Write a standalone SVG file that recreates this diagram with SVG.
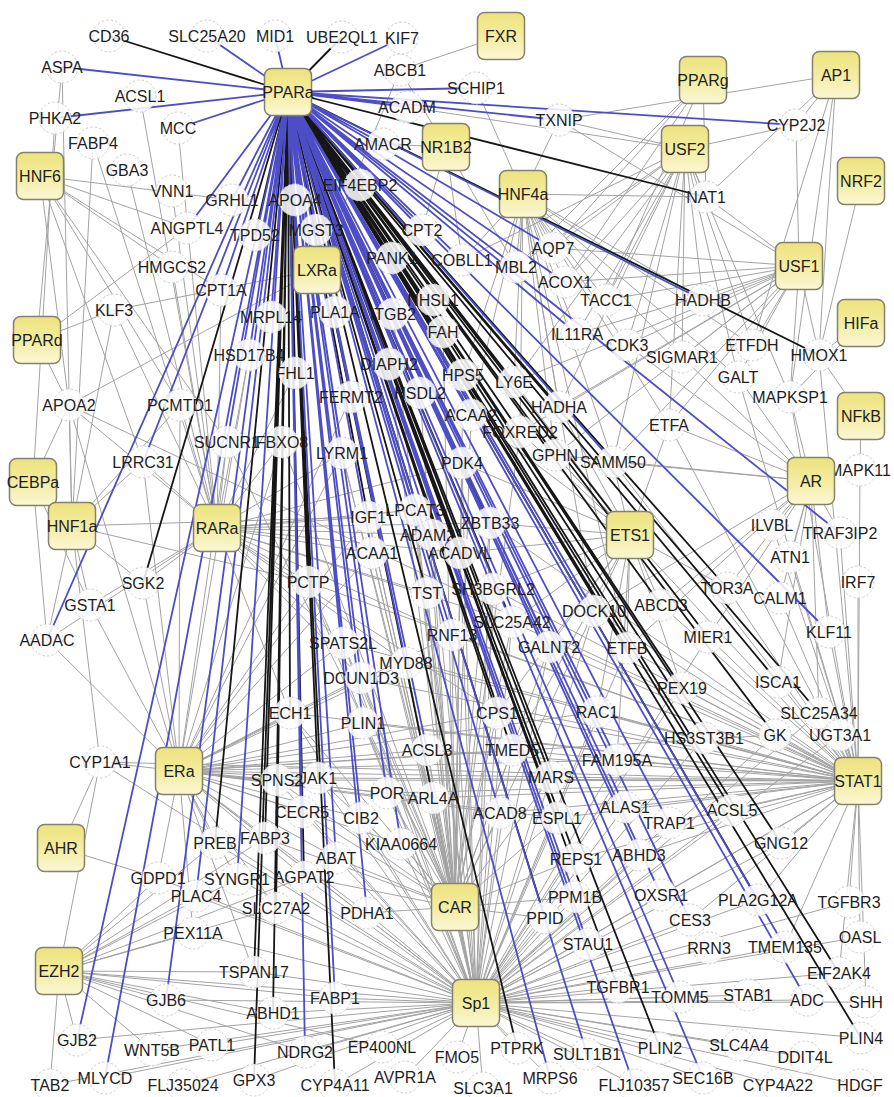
<svg xmlns="http://www.w3.org/2000/svg" width="894" height="1097" viewBox="0 0 894 1097">
<defs>
<linearGradient id="tfFill" x1="0" y1="0" x2="0" y2="1">
<stop offset="0" stop-color="#ede27c"/>
<stop offset="0.55" stop-color="#f4eda6"/>
<stop offset="1" stop-color="#fbf7d6"/>
</linearGradient>
<style>
.g{stroke:#a3a3a3;stroke-width:1;fill:none}
.b{stroke:#4d4dc6;stroke-width:1.8;fill:none}
.k{stroke:#161616;stroke-width:1.8;fill:none}
.n circle{fill:#fff;fill-opacity:0.86;stroke:#cdcdcd;stroke-width:1;stroke-dasharray:2.5 2}
.tf rect{fill:url(#tfFill);stroke:#85826a;stroke-width:1.5}
text{font-family:"Liberation Sans",Arial,Helvetica,sans-serif;font-size:16px;text-anchor:middle;fill:#1e1e1e}
</style>
</defs>
<rect width="894" height="1097" fill="#fff"/>
<g id="connectors">
<path id="e-Sp1" class="g" d="M476 1003L335 998M476 1003L305 1052M476 1003L382 1047M476 1003L405 1077M476 1003L457 1057M476 1003L483 1088M476 1003L517 1048M476 1003L550 1078M476 1003L587 1054M476 1003L634 1085M476 1003L660 1048M476 1003L703 1078M476 1003L739 1045M476 1003L778 1085M476 1003L805 1057M476 1003L860 1085M476 1003L861 1038M476 1003L866 1002M476 1003L807 1000M476 1003L748 995M476 1003L680 997M476 1003L618 987M476 1003L839 973M476 1003L335 1085M476 1003L254 1080M476 1003L183 1085M476 1003L105 1078M476 1003L50 1085M476 1003L152 1050M476 1003L212 1045M476 1003L77 1040M476 1003L273 1013M476 1003L254 972M476 1003L166 1000M476 1003L193 933M476 1003L196 896M476 1003L276 908M476 1003L158 878M476 1003L237 879M476 1003L304 877M476 1003L367 913M476 1003L336 858M476 1003L265 838M476 1003L215 843M476 1003L401 844M476 1003L361 818M476 1003L302 812M476 1003L387 793M476 1003L433 798M476 1003L427 750M476 1003L363 723M476 1003L318 778M476 1003L277 780M476 1003L290 713M476 1003L361 678M476 1003L406 663M476 1003L343 643M476 1003L308 582M476 1003L427 593M476 1003L452 635M476 1003L497 713M476 1003L512 750M476 1003L551 777M476 1003L500 813M476 1003L557 818M476 1003L576 859M476 1003L575 897M476 1003L545 918M476 1003L588 944M476 1003L690 920M476 1003L661 895M476 1003L709 948M476 1003L785 947M476 1003L849 902M476 1003L860 937M476 1003L758 900M476 1003L639 855M476 1003L669 823M476 1003L625 807M476 1003L617 760M476 1003L597 712M476 1003L732 810M476 1003L781 843M476 1003L704 738M476 1003L775 735M476 1003L179 771M476 1003L59 971M476 1003L858 781M476 1003L368 517M476 1003L372 553M476 1003L415 510M476 1003L432 535M476 1003L512 622M476 1003L549 647M476 1003L493 589M476 1003L460 553M476 1003L490 523M476 1003L627 648M476 1003L594 611M476 1003L682 688M476 1003L342 453M476 1003L462 463M476 1003L840 735M476 1003L819 713M476 1003L708 637M476 1003L100 762"/>
<path id="e-CAR" class="g" d="M455 907L372 553M455 907L368 517M455 907L415 510M455 907L432 535M455 907L490 523M455 907L460 553M455 907L427 593M455 907L493 589M455 907L308 582M455 907L343 643M455 907L452 635M455 907L512 622M455 907L406 663M455 907L361 678M455 907L363 723M455 907L290 713M455 907L497 713M455 907L512 750M455 907L427 750M455 907L318 778M455 907L387 793M455 907L433 798M455 907L361 818M455 907L401 844M455 907L500 813M455 907L551 777M455 907L557 818M455 907L462 463M455 907L471 415M455 907L420 393M455 907L351 397M455 907L342 453M455 907L389 364M455 907L549 647M455 907L594 611M455 907L302 812M455 907L277 780M455 907L336 858M455 907L367 913M455 907L304 877M455 907L265 838M455 907L463 375M455 907L520 432M455 907L393 314M455 907L443 332M455 907L335 312M455 907L227 442M455 907L282 442M455 907L576 859M455 907L545 918M455 907L575 897"/>
<path id="e-STAT1" class="g" d="M858 781L775 735M858 781L840 735M858 781L819 713M858 781L778 682M858 781L704 738M858 781L682 688M858 781L708 637M858 781L661 605M858 781L727 588M858 781L780 598M858 781L829 632M858 781L858 582M858 781L790 557M858 781L772 525M858 781L627 648M858 781L594 611M858 781L597 712M858 781L617 760M858 781L625 807M858 781L551 777M858 781L512 750M858 781L497 713M858 781L732 810M858 781L781 843M858 781L669 823M858 781L639 855M858 781L557 818M858 781L500 813M858 781L758 900M858 781L849 902M858 781L860 937M858 781L839 973M858 781L785 947M858 781L549 647M858 781L512 622M858 781L290 713M858 781L277 780M858 781L318 778M858 781L363 723M858 781L427 750M858 781L433 798M858 781L387 793M858 781L576 859M858 781L840 533M858 781L860 470M858 781L819 355M858 781L790 397M858 781L738 377M858 781L669 425M858 781L613 462M858 781L555 455M858 781L490 523M858 781L493 589M858 781L452 635M858 781L406 663M858 781L361 678M858 781L343 643M858 781L308 582M858 781L69 405M858 781L100 762M858 781L661 895M858 781L690 920M858 781L866 1002"/>
<path id="e-ERa" class="g" d="M179 771L100 762M179 771L47 640M179 771L90 605M179 771L290 713M179 771L277 780M179 771L318 778M179 771L302 812M179 771L363 723M179 771L427 750M179 771L361 678M179 771L343 643M179 771L308 582M179 771L551 777M179 771L497 713M179 771L512 750M179 771L387 793M179 771L361 818M179 771L433 798M179 771L401 844M179 771L265 838M179 771L215 843M179 771L237 879M179 771L304 877M179 771L158 878M179 771L193 933M179 771L254 972M179 771L276 908M179 771L336 858M179 771L367 913M179 771L368 517M179 771L372 553M179 771L452 635M179 771L406 663M179 771L557 818M179 771L500 813M179 771L617 760M179 771L597 712M179 771L775 735M179 771L143 462M179 771L180 405M179 771L143 583M179 771L282 442M179 771L227 442M179 771L342 453M179 771L351 397M179 771L249 355M179 771L69 405"/>
<path id="e-EZH2" class="g" d="M59 971L193 933M59 971L254 972M59 971L166 1000M59 971L273 1013M59 971L158 878M59 971L215 843M59 971L237 879M59 971L304 877M59 971L276 908M59 971L335 998M59 971L212 1045M59 971L152 1050M59 971L77 1040M59 971L100 762M59 971L196 896M59 971L305 1052M59 971L382 1047M59 971L50 1085M59 971L265 838"/>
<path id="e-AHR" class="g" d="M61 848L100 762M61 848L158 878"/>
<path id="e-RARa" class="g" d="M217 528L93 143M217 528L127 170M217 528L178 128M217 528L140 96M217 528L172 191M217 528L172 267M217 528L114 310M217 528L69 405M217 528L180 405M217 528L143 462M217 528L143 583M217 528L90 605M217 528L221 290M217 528L368 517M217 528L372 553M217 528L308 582M217 528L343 643M217 528L415 510M217 528L432 535M217 528L460 553M217 528L427 593M217 528L490 523M217 528L462 463M217 528L290 713M217 528L361 678M217 528L406 663M217 528L452 635M217 528L512 622M217 528L497 713M217 528L342 453M217 528L282 442M217 528L227 442M217 528L249 355M217 528L295 373M217 528L47 640"/>
<path id="e-HNF1a" class="g" d="M72 526L69 405M72 526L90 605M72 526L143 583M72 526L47 640M72 526L143 462M72 526L180 405M72 526L114 310M72 526L93 143M72 526L100 762M72 526L62 67M72 526L368 517M72 526L308 582"/>
<path id="e-CEBPa" class="g" d="M33 482L69 405M33 482L55 118M33 482L90 605M33 482L47 640"/>
<path id="e-PPARd" class="g" d="M37 340L69 405M37 340L62 67M37 340L187 228M37 340L114 310"/>
<path id="e-HNF6" class="g" d="M40 176L232 200M40 176L172 267M40 176L221 290M40 176L69 405M40 176L180 405M40 176L187 228M40 176L227 442M40 176L143 462"/>
<path id="e-LXRa" class="g" d="M317 270L69 405M317 270L400 70M317 270L114 310"/>
<path id="e-NR1B2" class="g" d="M446 147L422 230M446 147L462 260M446 147L383 144M446 147L516 267M446 147L400 70"/>
<path id="e-HNF4a" class="g" d="M523 194L703 300M523 194L606 300M523 194L627 345M523 194L577 334M523 194L682 357M523 194L559 407M523 194L514 382M523 194L555 455M523 194L613 462M523 194L669 425M523 194L520 432M523 194L565 282M523 194L516 267M523 194L553 248M523 194L462 260M523 194L706 197M523 194L463 375M523 194L471 415M523 194L627 648M523 194L594 611M523 194L752 345M523 194L738 377M523 194L559 120M523 194L476 88"/>
<path id="e-USF2" class="g" d="M685 149L706 197M685 149L796 125M685 149L559 120M685 149L703 300M685 149L606 300M685 149L627 345M685 149L682 357M685 149L752 345M685 149L738 377M685 149L577 334M685 149L565 282M685 149L516 267M685 149L553 248M685 149L462 260M685 149L669 425M685 149L559 407M685 149L514 382M685 149L613 462M685 149L790 397M685 149L407 107"/>
<path id="e-USF1" class="g" d="M799 266L703 300M799 266L606 300M799 266L627 345M799 266L682 357M799 266L752 345M799 266L738 377M799 266L790 397M799 266L819 355M799 266L577 334M799 266L565 282M799 266L553 248M799 266L559 407M799 266L555 455M799 266L613 462M799 266L669 425M799 266L514 382M799 266L706 197M799 266L796 125M799 266L559 120M799 266L520 432"/>
<path id="e-AP1" class="g" d="M836 75L796 125M836 75L559 120M836 75L819 355M836 75L706 197M836 75L790 397M836 75L752 345"/>
<path id="e-PPARg" class="g" d="M703 80L516 267M703 80L565 282M703 80L706 197M703 80L553 248M703 80L606 300"/>
<path id="e-small" class="g" d="M501 36L400 70M861 181L819 355M861 323L819 355M861 323L790 397M861 416L860 470M861 416L819 355"/>
<path id="e-AR" class="g" d="M811 481L772 525M811 481L840 533M811 481L790 557M811 481L780 598M811 481L829 632M811 481L727 588M811 481L790 397M811 481L738 377M811 481L669 425M811 481L682 357M811 481L778 682M811 481L819 713M811 481L708 637M811 481L661 605M811 481L627 648M811 481L594 611M811 481L613 462M811 481L555 455M811 481L627 345"/>
<path id="e-ETS1" class="g" d="M630 535L669 425M630 535L613 462M630 535L555 455M630 535L520 432M630 535L594 611M630 535L661 605M630 535L627 648M630 535L597 712M630 535L549 647M630 535L512 622M630 535L727 588M630 535L708 637M630 535L682 688M630 535L490 523M630 535L462 463M630 535L460 553M630 535L493 589M630 535L617 760M630 535L559 407M630 535L514 382M630 535L471 415M630 535L497 713M630 535L512 750"/>
<path id="e-PPARa-k" class="k" d="M288 92L109 36M288 92L342 37M288 92L706 197M288 92L819 355M288 92L255 235M288 92L316 230M288 92L295 373M288 92L282 442M288 92L143 583M288 92L360 185M288 92L392 258M288 92L393 314M288 92L433 300M288 92L443 332M288 92L463 375M288 92L514 382M288 92L351 397M288 92L559 407M288 92L520 432M288 92L462 463M288 92L555 455M288 92L368 517M288 92L490 523M288 92L460 553M288 92L308 582M288 92L427 593M288 92L512 622M288 92L497 713M288 92L290 713M288 92L512 750M288 92L318 778M288 92L551 777M288 92L433 798M288 92L557 818M288 92L277 780M288 92L727 588M288 92L661 605M288 92L708 637M288 92L627 648M288 92L778 682M288 92L682 688M288 92L819 713M288 92L775 735M288 92L704 738M288 92L732 810M288 92L781 843M288 92L576 859M288 92L545 918M288 92L758 900M288 92L839 973M288 92L618 987M288 92L861 1038M288 92L660 1048M288 92L517 1048M288 92L215 843M288 92L265 838M288 92L304 877M288 92L276 908M288 92L254 972M288 92L273 1013M288 92L254 1080M288 92L335 1085"/>
<path id="e-PPARa-b" class="b" d="M288 92L207 36M288 92L275 36M288 92L402 38M288 92L62 67M288 92L55 118M288 92L178 128M288 92L476 88M288 92L407 107M288 92L559 120M288 92L796 125M288 92L383 144M288 92L703 300M288 92L553 248M288 92L565 282M288 92L516 267M288 92L840 533M288 92L829 632M288 92L577 334M288 92L613 462M288 92L232 200M288 92L295 200M288 92L187 228M288 92L221 290M288 92L271 317M288 92L249 355M288 92L227 442M288 92L143 462M288 92L47 640M288 92L422 230M288 92L462 260M288 92L335 312M288 92L389 364M288 92L420 393M288 92L471 415M288 92L342 453M288 92L415 510M288 92L432 535M288 92L372 553M288 92L493 589M288 92L594 611M288 92L452 635M288 92L343 643M288 92L549 647M288 92L406 663M288 92L361 678M288 92L363 723M288 92L597 712M288 92L427 750M288 92L617 760M288 92L387 793M288 92L625 807M288 92L302 812M288 92L361 818M288 92L500 813M288 92L669 823M288 92L639 855M288 92L575 897M288 92L588 944M288 92L661 895M288 92L690 920M288 92L785 947M288 92L680 997M288 92L807 1000M288 92L587 1054M288 92L634 1085M288 92L703 1078M288 92L550 1078M288 92L196 896M288 92L336 858M288 92L401 844M288 92L367 913M288 92L166 1000M288 92L77 1040M288 92L105 1078M288 92L305 1052M288 92L335 998M288 92L237 879"/>
</g>
<g id="nodes">
<g id="n-CD36" class="n"><circle cx="109" cy="36" r="16"/><text x="109" y="42">CD36</text></g>
<g id="n-SLC25A20" class="n"><circle cx="207" cy="36" r="16"/><text x="207" y="42">SLC25A20</text></g>
<g id="n-MID1" class="n"><circle cx="275" cy="36" r="16"/><text x="275" y="42">MID1</text></g>
<g id="n-UBE2QL1" class="n"><circle cx="342" cy="37" r="16"/><text x="342" y="43">UBE2QL1</text></g>
<g id="n-KIF7" class="n"><circle cx="402" cy="38" r="16"/><text x="402" y="44">KIF7</text></g>
<g id="n-ASPA" class="n"><circle cx="62" cy="67" r="16"/><text x="62" y="73">ASPA</text></g>
<g id="n-ABCB1" class="n"><circle cx="400" cy="70" r="16"/><text x="400" y="76">ABCB1</text></g>
<g id="n-SCHIP1" class="n"><circle cx="476" cy="88" r="16"/><text x="476" y="94">SCHIP1</text></g>
<g id="n-ACSL1" class="n"><circle cx="140" cy="96" r="16"/><text x="140" y="102">ACSL1</text></g>
<g id="n-ACADM" class="n"><circle cx="407" cy="107" r="16"/><text x="407" y="113">ACADM</text></g>
<g id="n-PHKA2" class="n"><circle cx="55" cy="118" r="16"/><text x="55" y="124">PHKA2</text></g>
<g id="n-TXNIP" class="n"><circle cx="559" cy="120" r="16"/><text x="559" y="126">TXNIP</text></g>
<g id="n-CYP2J2" class="n"><circle cx="796" cy="125" r="16"/><text x="796" y="131">CYP2J2</text></g>
<g id="n-MCC" class="n"><circle cx="178" cy="128" r="16"/><text x="178" y="134">MCC</text></g>
<g id="n-FABP4" class="n"><circle cx="93" cy="143" r="16"/><text x="93" y="149">FABP4</text></g>
<g id="n-AMACR" class="n"><circle cx="383" cy="144" r="16"/><text x="383" y="150">AMACR</text></g>
<g id="n-GBA3" class="n"><circle cx="127" cy="170" r="16"/><text x="127" y="176">GBA3</text></g>
<g id="n-EIF4EBP2" class="n"><circle cx="360" cy="185" r="16"/><text x="360" y="191">EIF4EBP2</text></g>
<g id="n-VNN1" class="n"><circle cx="172" cy="191" r="16"/><text x="172" y="197">VNN1</text></g>
<g id="n-NAT1" class="n"><circle cx="706" cy="197" r="16"/><text x="706" y="203">NAT1</text></g>
<g id="n-GRHL1" class="n"><circle cx="232" cy="200" r="16"/><text x="232" y="206">GRHL1</text></g>
<g id="n-APOA4" class="n"><circle cx="295" cy="200" r="16"/><text x="295" y="206">APOA4</text></g>
<g id="n-ANGPTL4" class="n"><circle cx="187" cy="228" r="16"/><text x="187" y="234">ANGPTL4</text></g>
<g id="n-TPD52" class="n"><circle cx="255" cy="235" r="16"/><text x="255" y="241">TPD52</text></g>
<g id="n-MGST3" class="n"><circle cx="316" cy="230" r="16"/><text x="316" y="236">MGST3</text></g>
<g id="n-CPT2" class="n"><circle cx="422" cy="230" r="16"/><text x="422" y="236">CPT2</text></g>
<g id="n-AQP7" class="n"><circle cx="553" cy="248" r="16"/><text x="553" y="254">AQP7</text></g>
<g id="n-PANK1" class="n"><circle cx="392" cy="258" r="16"/><text x="392" y="264">PANK1</text></g>
<g id="n-COBLL1" class="n"><circle cx="462" cy="260" r="16"/><text x="462" y="266">COBLL1</text></g>
<g id="n-MBL2" class="n"><circle cx="516" cy="267" r="16"/><text x="516" y="273">MBL2</text></g>
<g id="n-HMGCS2" class="n"><circle cx="172" cy="267" r="16"/><text x="172" y="273">HMGCS2</text></g>
<g id="n-ACOX1" class="n"><circle cx="565" cy="282" r="16"/><text x="565" y="288">ACOX1</text></g>
<g id="n-CPT1A" class="n"><circle cx="221" cy="290" r="16"/><text x="221" y="296">CPT1A</text></g>
<g id="n-NHSL1" class="n"><circle cx="433" cy="300" r="16"/><text x="433" y="306">NHSL1</text></g>
<g id="n-TACC1" class="n"><circle cx="606" cy="300" r="16"/><text x="606" y="306">TACC1</text></g>
<g id="n-HADHB" class="n"><circle cx="703" cy="300" r="16"/><text x="703" y="306">HADHB</text></g>
<g id="n-KLF3" class="n"><circle cx="114" cy="310" r="16"/><text x="114" y="316">KLF3</text></g>
<g id="n-PLA1A" class="n"><circle cx="335" cy="312" r="16"/><text x="335" y="318">PLA1A</text></g>
<g id="n-ITGB2" class="n"><circle cx="393" cy="314" r="16"/><text x="393" y="320">ITGB2</text></g>
<g id="n-MRPL14" class="n"><circle cx="271" cy="317" r="16"/><text x="271" y="323">MRPL14</text></g>
<g id="n-FAH" class="n"><circle cx="443" cy="332" r="16"/><text x="443" y="338">FAH</text></g>
<g id="n-IL11RA" class="n"><circle cx="577" cy="334" r="16"/><text x="577" y="340">IL11RA</text></g>
<g id="n-CDK3" class="n"><circle cx="627" cy="345" r="16"/><text x="627" y="351">CDK3</text></g>
<g id="n-ETFDH" class="n"><circle cx="752" cy="345" r="16"/><text x="752" y="351">ETFDH</text></g>
<g id="n-HSD17B4" class="n"><circle cx="249" cy="355" r="16"/><text x="249" y="361">HSD17B4</text></g>
<g id="n-HMOX1" class="n"><circle cx="819" cy="355" r="16"/><text x="819" y="361">HMOX1</text></g>
<g id="n-SIGMAR1" class="n"><circle cx="682" cy="357" r="16"/><text x="682" y="363">SIGMAR1</text></g>
<g id="n-DIAPH2" class="n"><circle cx="389" cy="364" r="16"/><text x="389" y="370">DIAPH2</text></g>
<g id="n-FHL1" class="n"><circle cx="295" cy="373" r="16"/><text x="295" y="379">FHL1</text></g>
<g id="n-HPS5" class="n"><circle cx="463" cy="375" r="16"/><text x="463" y="381">HPS5</text></g>
<g id="n-GALT" class="n"><circle cx="738" cy="377" r="16"/><text x="738" y="383">GALT</text></g>
<g id="n-LY6E" class="n"><circle cx="514" cy="382" r="16"/><text x="514" y="388">LY6E</text></g>
<g id="n-HSDL2" class="n"><circle cx="420" cy="393" r="16"/><text x="420" y="399">HSDL2</text></g>
<g id="n-FERMT2" class="n"><circle cx="351" cy="397" r="16"/><text x="351" y="403">FERMT2</text></g>
<g id="n-MAPKSP1" class="n"><circle cx="790" cy="397" r="16"/><text x="790" y="403">MAPKSP1</text></g>
<g id="n-APOA2" class="n"><circle cx="69" cy="405" r="16"/><text x="69" y="411">APOA2</text></g>
<g id="n-PCMTD1" class="n"><circle cx="180" cy="405" r="16"/><text x="180" y="411">PCMTD1</text></g>
<g id="n-HADHA" class="n"><circle cx="559" cy="407" r="16"/><text x="559" y="413">HADHA</text></g>
<g id="n-ACAA2" class="n"><circle cx="471" cy="415" r="16"/><text x="471" y="421">ACAA2</text></g>
<g id="n-ETFA" class="n"><circle cx="669" cy="425" r="16"/><text x="669" y="431">ETFA</text></g>
<g id="n-FOXRED2" class="n"><circle cx="520" cy="432" r="16"/><text x="520" y="438">FOXRED2</text></g>
<g id="n-SUCNR1" class="n"><circle cx="227" cy="442" r="16"/><text x="227" y="448">SUCNR1</text></g>
<g id="n-FBXO8" class="n"><circle cx="282" cy="442" r="16"/><text x="282" y="448">FBXO8</text></g>
<g id="n-LYRM1" class="n"><circle cx="342" cy="453" r="16"/><text x="342" y="459">LYRM1</text></g>
<g id="n-GPHN" class="n"><circle cx="555" cy="455" r="16"/><text x="555" y="461">GPHN</text></g>
<g id="n-SAMM50" class="n"><circle cx="613" cy="462" r="16"/><text x="613" y="468">SAMM50</text></g>
<g id="n-LRRC31" class="n"><circle cx="143" cy="462" r="16"/><text x="143" y="468">LRRC31</text></g>
<g id="n-PDK4" class="n"><circle cx="462" cy="463" r="16"/><text x="462" y="469">PDK4</text></g>
<g id="n-MAPK11" class="n"><circle cx="860" cy="470" r="16"/><text x="860" y="476">MAPK11</text></g>
<g id="n-LPCAT3" class="n"><circle cx="415" cy="510" r="16"/><text x="415" y="516">LPCAT3</text></g>
<g id="n-IGF1" class="n"><circle cx="368" cy="517" r="16"/><text x="368" y="523">IGF1</text></g>
<g id="n-ZBTB33" class="n"><circle cx="490" cy="523" r="16"/><text x="490" y="529">ZBTB33</text></g>
<g id="n-ILVBL" class="n"><circle cx="772" cy="525" r="16"/><text x="772" y="531">ILVBL</text></g>
<g id="n-TRAF3IP2" class="n"><circle cx="840" cy="533" r="16"/><text x="840" y="539">TRAF3IP2</text></g>
<g id="n-ADAM21" class="n"><circle cx="432" cy="535" r="16"/><text x="432" y="541">ADAM21</text></g>
<g id="n-ACAA1" class="n"><circle cx="372" cy="553" r="16"/><text x="372" y="559">ACAA1</text></g>
<g id="n-ACADVL" class="n"><circle cx="460" cy="553" r="16"/><text x="460" y="559">ACADVL</text></g>
<g id="n-ATN1" class="n"><circle cx="790" cy="557" r="16"/><text x="790" y="563">ATN1</text></g>
<g id="n-PCTP" class="n"><circle cx="308" cy="582" r="16"/><text x="308" y="588">PCTP</text></g>
<g id="n-IRF7" class="n"><circle cx="858" cy="582" r="16"/><text x="858" y="588">IRF7</text></g>
<g id="n-SGK2" class="n"><circle cx="143" cy="583" r="16"/><text x="143" y="589">SGK2</text></g>
<g id="n-TOR3A" class="n"><circle cx="727" cy="588" r="16"/><text x="727" y="594">TOR3A</text></g>
<g id="n-SH3BGRL2" class="n"><circle cx="493" cy="589" r="16"/><text x="493" y="595">SH3BGRL2</text></g>
<g id="n-TST" class="n"><circle cx="427" cy="593" r="16"/><text x="427" y="599">TST</text></g>
<g id="n-CALM1" class="n"><circle cx="780" cy="598" r="16"/><text x="780" y="604">CALM1</text></g>
<g id="n-ABCD3" class="n"><circle cx="661" cy="605" r="16"/><text x="661" y="611">ABCD3</text></g>
<g id="n-GSTA1" class="n"><circle cx="90" cy="605" r="16"/><text x="90" y="611">GSTA1</text></g>
<g id="n-DOCK10" class="n"><circle cx="594" cy="611" r="16"/><text x="594" y="617">DOCK10</text></g>
<g id="n-SLC25A42" class="n"><circle cx="512" cy="622" r="16"/><text x="512" y="628">SLC25A42</text></g>
<g id="n-KLF11" class="n"><circle cx="829" cy="632" r="16"/><text x="829" y="638">KLF11</text></g>
<g id="n-RNF13" class="n"><circle cx="452" cy="635" r="16"/><text x="452" y="641">RNF13</text></g>
<g id="n-MIER1" class="n"><circle cx="708" cy="637" r="16"/><text x="708" y="643">MIER1</text></g>
<g id="n-AADAC" class="n"><circle cx="47" cy="640" r="16"/><text x="47" y="646">AADAC</text></g>
<g id="n-SPATS2L" class="n"><circle cx="343" cy="643" r="16"/><text x="343" y="649">SPATS2L</text></g>
<g id="n-GALNT2" class="n"><circle cx="549" cy="647" r="16"/><text x="549" y="653">GALNT2</text></g>
<g id="n-ETFB" class="n"><circle cx="627" cy="648" r="16"/><text x="627" y="654">ETFB</text></g>
<g id="n-MYD88" class="n"><circle cx="406" cy="663" r="16"/><text x="406" y="669">MYD88</text></g>
<g id="n-DCUN1D3" class="n"><circle cx="361" cy="678" r="16"/><text x="361" y="684">DCUN1D3</text></g>
<g id="n-ISCA1" class="n"><circle cx="778" cy="682" r="16"/><text x="778" y="688">ISCA1</text></g>
<g id="n-PEX19" class="n"><circle cx="682" cy="688" r="16"/><text x="682" y="694">PEX19</text></g>
<g id="n-CPS1" class="n"><circle cx="497" cy="713" r="16"/><text x="497" y="719">CPS1</text></g>
<g id="n-ECH1" class="n"><circle cx="290" cy="713" r="16"/><text x="290" y="719">ECH1</text></g>
<g id="n-RAC1" class="n"><circle cx="597" cy="712" r="16"/><text x="597" y="718">RAC1</text></g>
<g id="n-SLC25A34" class="n"><circle cx="819" cy="713" r="16"/><text x="819" y="719">SLC25A34</text></g>
<g id="n-PLIN1" class="n"><circle cx="363" cy="723" r="16"/><text x="363" y="729">PLIN1</text></g>
<g id="n-GK" class="n"><circle cx="775" cy="735" r="16"/><text x="775" y="741">GK</text></g>
<g id="n-HS3ST3B1" class="n"><circle cx="704" cy="738" r="16"/><text x="704" y="744">HS3ST3B1</text></g>
<g id="n-UGT3A1" class="n"><circle cx="840" cy="735" r="16"/><text x="840" y="741">UGT3A1</text></g>
<g id="n-ACSL3" class="n"><circle cx="427" cy="750" r="16"/><text x="427" y="756">ACSL3</text></g>
<g id="n-TMED5" class="n"><circle cx="512" cy="750" r="16"/><text x="512" y="756">TMED5</text></g>
<g id="n-FAM195A" class="n"><circle cx="617" cy="760" r="16"/><text x="617" y="766">FAM195A</text></g>
<g id="n-CYP1A1" class="n"><circle cx="100" cy="762" r="16"/><text x="100" y="768">CYP1A1</text></g>
<g id="n-JAK1" class="n"><circle cx="318" cy="778" r="16"/><text x="318" y="784">JAK1</text></g>
<g id="n-MARS" class="n"><circle cx="551" cy="777" r="16"/><text x="551" y="783">MARS</text></g>
<g id="n-SPNS2" class="n"><circle cx="277" cy="780" r="16"/><text x="277" y="786">SPNS2</text></g>
<g id="n-POR" class="n"><circle cx="387" cy="793" r="16"/><text x="387" y="799">POR</text></g>
<g id="n-ARL4A" class="n"><circle cx="433" cy="798" r="16"/><text x="433" y="804">ARL4A</text></g>
<g id="n-ALAS1" class="n"><circle cx="625" cy="807" r="16"/><text x="625" y="813">ALAS1</text></g>
<g id="n-ACSL5" class="n"><circle cx="732" cy="810" r="16"/><text x="732" y="816">ACSL5</text></g>
<g id="n-CECR5" class="n"><circle cx="302" cy="812" r="16"/><text x="302" y="818">CECR5</text></g>
<g id="n-CIB2" class="n"><circle cx="361" cy="818" r="16"/><text x="361" y="824">CIB2</text></g>
<g id="n-ACAD8" class="n"><circle cx="500" cy="813" r="16"/><text x="500" y="819">ACAD8</text></g>
<g id="n-ESPL1" class="n"><circle cx="557" cy="818" r="16"/><text x="557" y="824">ESPL1</text></g>
<g id="n-TRAP1" class="n"><circle cx="669" cy="823" r="16"/><text x="669" y="829">TRAP1</text></g>
<g id="n-PREB" class="n"><circle cx="215" cy="843" r="16"/><text x="215" y="849">PREB</text></g>
<g id="n-FABP3" class="n"><circle cx="265" cy="838" r="16"/><text x="265" y="844">FABP3</text></g>
<g id="n-KIAA0664" class="n"><circle cx="401" cy="844" r="16"/><text x="401" y="850">KIAA0664</text></g>
<g id="n-GNG12" class="n"><circle cx="781" cy="843" r="16"/><text x="781" y="849">GNG12</text></g>
<g id="n-ABAT" class="n"><circle cx="336" cy="858" r="16"/><text x="336" y="864">ABAT</text></g>
<g id="n-ABHD3" class="n"><circle cx="639" cy="855" r="16"/><text x="639" y="861">ABHD3</text></g>
<g id="n-REPS1" class="n"><circle cx="576" cy="859" r="16"/><text x="576" y="865">REPS1</text></g>
<g id="n-GDPD1" class="n"><circle cx="158" cy="878" r="16"/><text x="158" y="884">GDPD1</text></g>
<g id="n-SYNGR1" class="n"><circle cx="237" cy="879" r="16"/><text x="237" y="885">SYNGR1</text></g>
<g id="n-AGPAT2" class="n"><circle cx="304" cy="877" r="16"/><text x="304" y="883">AGPAT2</text></g>
<g id="n-PLAC4" class="n"><circle cx="196" cy="896" r="16"/><text x="196" y="902">PLAC4</text></g>
<g id="n-OXSR1" class="n"><circle cx="661" cy="895" r="16"/><text x="661" y="901">OXSR1</text></g>
<g id="n-PPM1B" class="n"><circle cx="575" cy="897" r="16"/><text x="575" y="903">PPM1B</text></g>
<g id="n-PLA2G12A" class="n"><circle cx="758" cy="900" r="16"/><text x="758" y="906">PLA2G12A</text></g>
<g id="n-TGFBR3" class="n"><circle cx="849" cy="902" r="16"/><text x="849" y="908">TGFBR3</text></g>
<g id="n-SLC27A2" class="n"><circle cx="276" cy="908" r="16"/><text x="276" y="914">SLC27A2</text></g>
<g id="n-PDHA1" class="n"><circle cx="367" cy="913" r="16"/><text x="367" y="919">PDHA1</text></g>
<g id="n-PPID" class="n"><circle cx="545" cy="918" r="16"/><text x="545" y="924">PPID</text></g>
<g id="n-CES3" class="n"><circle cx="690" cy="920" r="16"/><text x="690" y="926">CES3</text></g>
<g id="n-PEX11A" class="n"><circle cx="193" cy="933" r="16"/><text x="193" y="939">PEX11A</text></g>
<g id="n-OASL" class="n"><circle cx="860" cy="937" r="16"/><text x="860" y="943">OASL</text></g>
<g id="n-STAU1" class="n"><circle cx="588" cy="944" r="16"/><text x="588" y="950">STAU1</text></g>
<g id="n-RRN3" class="n"><circle cx="709" cy="948" r="16"/><text x="709" y="954">RRN3</text></g>
<g id="n-TMEM135" class="n"><circle cx="785" cy="947" r="16"/><text x="785" y="953">TMEM135</text></g>
<g id="n-TSPAN17" class="n"><circle cx="254" cy="972" r="16"/><text x="254" y="978">TSPAN17</text></g>
<g id="n-EIF2AK4" class="n"><circle cx="839" cy="973" r="16"/><text x="839" y="979">EIF2AK4</text></g>
<g id="n-TGFBR1" class="n"><circle cx="618" cy="987" r="16"/><text x="618" y="993">TGFBR1</text></g>
<g id="n-STAB1" class="n"><circle cx="748" cy="995" r="16"/><text x="748" y="1001">STAB1</text></g>
<g id="n-TOMM5" class="n"><circle cx="680" cy="997" r="16"/><text x="680" y="1003">TOMM5</text></g>
<g id="n-FABP1" class="n"><circle cx="335" cy="998" r="16"/><text x="335" y="1004">FABP1</text></g>
<g id="n-GJB6" class="n"><circle cx="166" cy="1000" r="16"/><text x="166" y="1006">GJB6</text></g>
<g id="n-ADC" class="n"><circle cx="807" cy="1000" r="16"/><text x="807" y="1006">ADC</text></g>
<g id="n-SHH" class="n"><circle cx="866" cy="1002" r="16"/><text x="866" y="1008">SHH</text></g>
<g id="n-ABHD1" class="n"><circle cx="273" cy="1013" r="16"/><text x="273" y="1019">ABHD1</text></g>
<g id="n-PLIN4" class="n"><circle cx="861" cy="1038" r="16"/><text x="861" y="1044">PLIN4</text></g>
<g id="n-GJB2" class="n"><circle cx="77" cy="1040" r="16"/><text x="77" y="1046">GJB2</text></g>
<g id="n-SLC4A4" class="n"><circle cx="739" cy="1045" r="16"/><text x="739" y="1051">SLC4A4</text></g>
<g id="n-PATL1" class="n"><circle cx="212" cy="1045" r="16"/><text x="212" y="1051">PATL1</text></g>
<g id="n-EP400NL" class="n"><circle cx="382" cy="1047" r="16"/><text x="382" y="1053">EP400NL</text></g>
<g id="n-PTPRK" class="n"><circle cx="517" cy="1048" r="16"/><text x="517" y="1054">PTPRK</text></g>
<g id="n-PLIN2" class="n"><circle cx="660" cy="1048" r="16"/><text x="660" y="1054">PLIN2</text></g>
<g id="n-NDRG2" class="n"><circle cx="305" cy="1052" r="16"/><text x="305" y="1058">NDRG2</text></g>
<g id="n-WNT5B" class="n"><circle cx="152" cy="1050" r="16"/><text x="152" y="1056">WNT5B</text></g>
<g id="n-SULT1B1" class="n"><circle cx="587" cy="1054" r="16"/><text x="587" y="1060">SULT1B1</text></g>
<g id="n-FMO5" class="n"><circle cx="457" cy="1057" r="16"/><text x="457" y="1063">FMO5</text></g>
<g id="n-DDIT4L" class="n"><circle cx="805" cy="1057" r="16"/><text x="805" y="1063">DDIT4L</text></g>
<g id="n-AVPR1A" class="n"><circle cx="405" cy="1077" r="16"/><text x="405" y="1083">AVPR1A</text></g>
<g id="n-MLYCD" class="n"><circle cx="105" cy="1078" r="16"/><text x="105" y="1084">MLYCD</text></g>
<g id="n-MRPS6" class="n"><circle cx="550" cy="1078" r="16"/><text x="550" y="1084">MRPS6</text></g>
<g id="n-SEC16B" class="n"><circle cx="703" cy="1078" r="16"/><text x="703" y="1084">SEC16B</text></g>
<g id="n-GPX3" class="n"><circle cx="254" cy="1080" r="16"/><text x="254" y="1086">GPX3</text></g>
<g id="n-TAB2" class="n"><circle cx="50" cy="1085" r="16"/><text x="50" y="1091">TAB2</text></g>
<g id="n-FLJ35024" class="n"><circle cx="183" cy="1085" r="16"/><text x="183" y="1091">FLJ35024</text></g>
<g id="n-CYP4A11" class="n"><circle cx="335" cy="1085" r="16"/><text x="335" y="1091">CYP4A11</text></g>
<g id="n-SLC3A1" class="n"><circle cx="483" cy="1088" r="16"/><text x="483" y="1094">SLC3A1</text></g>
<g id="n-FLJ10357" class="n"><circle cx="634" cy="1085" r="16"/><text x="634" y="1091">FLJ10357</text></g>
<g id="n-CYP4A22" class="n"><circle cx="778" cy="1085" r="16"/><text x="778" y="1091">CYP4A22</text></g>
<g id="n-HDGF" class="n"><circle cx="860" cy="1085" r="16"/><text x="860" y="1091">HDGF</text></g>
</g>
<g id="factors">
<g id="tf-PPARa" class="tf"><rect x="264.5" y="68.5" width="47" height="47" rx="7"/><text x="288" y="98">PPARa</text></g>
<g id="tf-FXR" class="tf"><rect x="477.5" y="12.5" width="47" height="47" rx="7"/><text x="501" y="42">FXR</text></g>
<g id="tf-PPARg" class="tf"><rect x="679.5" y="56.5" width="47" height="47" rx="7"/><text x="703" y="86">PPARg</text></g>
<g id="tf-AP1" class="tf"><rect x="812.5" y="51.5" width="47" height="47" rx="7"/><text x="836" y="81">AP1</text></g>
<g id="tf-NR1B2" class="tf"><rect x="422.5" y="123.5" width="47" height="47" rx="7"/><text x="446" y="153">NR1B2</text></g>
<g id="tf-USF2" class="tf"><rect x="661.5" y="125.5" width="47" height="47" rx="7"/><text x="685" y="155">USF2</text></g>
<g id="tf-NRF2" class="tf"><rect x="837.5" y="157.5" width="47" height="47" rx="7"/><text x="861" y="187">NRF2</text></g>
<g id="tf-HNF6" class="tf"><rect x="16.5" y="152.5" width="47" height="47" rx="7"/><text x="40" y="182">HNF6</text></g>
<g id="tf-HNF4a" class="tf"><rect x="499.5" y="170.5" width="47" height="47" rx="7"/><text x="523" y="200">HNF4a</text></g>
<g id="tf-LXRa" class="tf"><rect x="293.5" y="246.5" width="47" height="47" rx="7"/><text x="317" y="276">LXRa</text></g>
<g id="tf-USF1" class="tf"><rect x="775.5" y="242.5" width="47" height="47" rx="7"/><text x="799" y="272">USF1</text></g>
<g id="tf-HIFa" class="tf"><rect x="837.5" y="299.5" width="47" height="47" rx="7"/><text x="861" y="329">HIFa</text></g>
<g id="tf-PPARd" class="tf"><rect x="13.5" y="316.5" width="47" height="47" rx="7"/><text x="37" y="346">PPARd</text></g>
<g id="tf-NFkB" class="tf"><rect x="837.5" y="392.5" width="47" height="47" rx="7"/><text x="861" y="422">NFkB</text></g>
<g id="tf-CEBPa" class="tf"><rect x="9.5" y="458.5" width="47" height="47" rx="7"/><text x="33" y="488">CEBPa</text></g>
<g id="tf-HNF1a" class="tf"><rect x="48.5" y="502.5" width="47" height="47" rx="7"/><text x="72" y="532">HNF1a</text></g>
<g id="tf-RARa" class="tf"><rect x="193.5" y="504.5" width="47" height="47" rx="7"/><text x="217" y="534">RARa</text></g>
<g id="tf-AR" class="tf"><rect x="787.5" y="457.5" width="47" height="47" rx="7"/><text x="811" y="487">AR</text></g>
<g id="tf-ETS1" class="tf"><rect x="606.5" y="511.5" width="47" height="47" rx="7"/><text x="630" y="541">ETS1</text></g>
<g id="tf-ERa" class="tf"><rect x="155.5" y="747.5" width="47" height="47" rx="7"/><text x="179" y="777">ERa</text></g>
<g id="tf-STAT1" class="tf"><rect x="834.5" y="757.5" width="47" height="47" rx="7"/><text x="858" y="787">STAT1</text></g>
<g id="tf-AHR" class="tf"><rect x="37.5" y="824.5" width="47" height="47" rx="7"/><text x="61" y="854">AHR</text></g>
<g id="tf-CAR" class="tf"><rect x="431.5" y="883.5" width="47" height="47" rx="7"/><text x="455" y="913">CAR</text></g>
<g id="tf-EZH2" class="tf"><rect x="35.5" y="947.5" width="47" height="47" rx="7"/><text x="59" y="977">EZH2</text></g>
<g id="tf-Sp1" class="tf"><rect x="452.5" y="979.5" width="47" height="47" rx="7"/><text x="476" y="1009">Sp1</text></g>
</g>
</svg>
